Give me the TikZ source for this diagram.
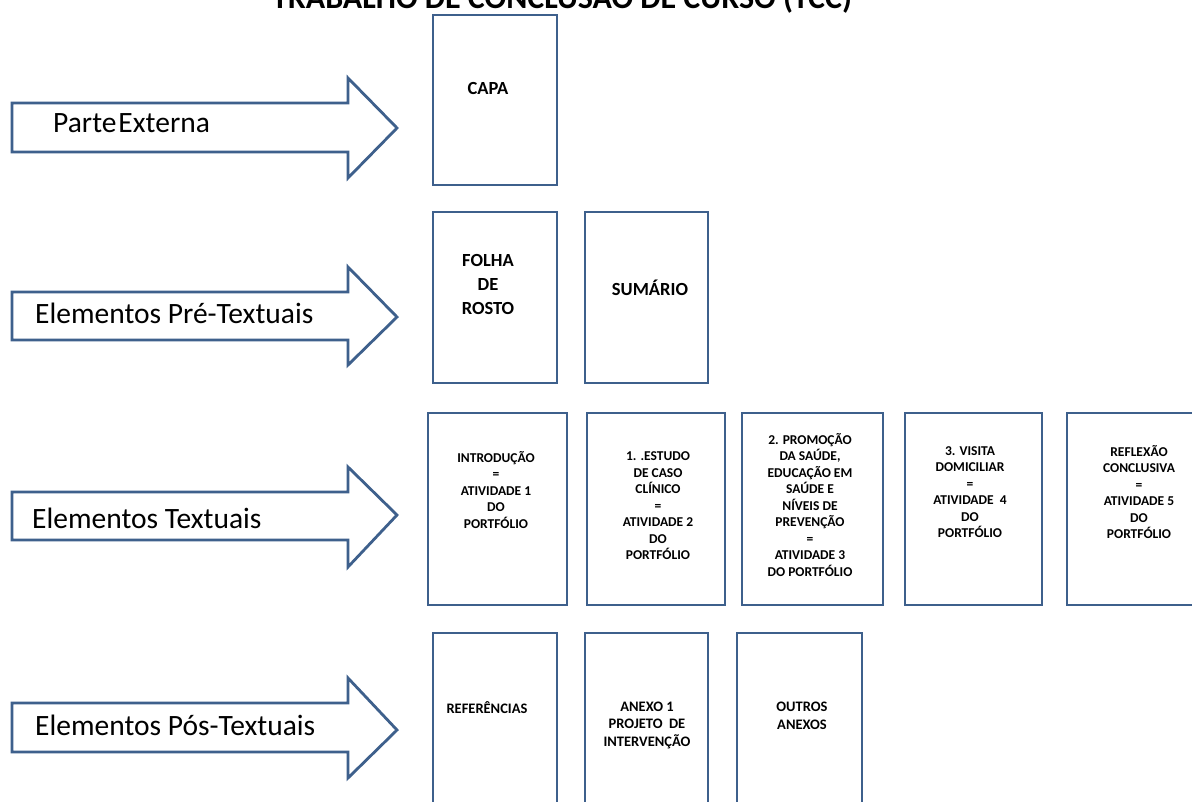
\documentclass[tikz,border=0pt]{standalone}
\usepackage{fontspec}
\setmainfont{Carlito}
\usetikzlibrary{fit}
\definecolor{edgeblue}{RGB}{62,96,140}
\begin{document}
\begin{tikzpicture}[x=1pt,y=-1pt,
  sheet/.style={draw=edgeblue,line width=2.8pt,fill=white,inner sep=0pt},
  bigarrow/.style={draw=edgeblue,line width=2.8pt,fill=white,line join=miter},
  lbl/.style={font=\fontsize{29.5}{35}\selectfont,anchor=base west,inner sep=0pt},
  txt/.style={font=\bfseries\fontsize{13.5}{16.5}\selectfont,align=center,inner sep=0pt},
  txtbig/.style={font=\bfseries\fontsize{18.5}{24}\selectfont,align=center,inner sep=0pt},
  txtmid/.style={font=\bfseries\fontsize{14.5}{17.5}\selectfont,align=center,inner sep=0pt}]
\useasboundingbox (0,0) rectangle (1192,801);
\clip (0,0) rectangle (1192,801);
\fill[white] (0,0) rectangle (1192,801);

% title (cut off at top)
\node[font=\bfseries\fontsize{32}{38}\selectfont,anchor=base,inner sep=0pt] (title) at (562,8) {TRABALHO DE CONCLUSÃO DE CURSO (TCC)};

% arrows
\draw[bigarrow] (12,103) -- (348,103) -- (348,78) -- (397,128) -- (348,178) -- (348,152) -- (12,152) -- cycle;
\draw[bigarrow] (12,292) -- (348,292) -- (348,267) -- (397,317) -- (348,365) -- (348,340) -- (12,340) -- cycle;
\draw[bigarrow] (12,492) -- (348,492) -- (348,467) -- (397,515) -- (348,567) -- (348,540) -- (12,540) -- cycle;
\draw[bigarrow] (12,703) -- (348,703) -- (348,678) -- (397,730) -- (348,778) -- (348,752) -- (12,752) -- cycle;

\node[lbl] (l1) at (53,132) {Parte\kern2pt Externa};
\node[lbl] (l2) at (35,323) {Elementos Pré-Textuais};
\node[lbl] (l3) at (32,528) {Elementos Textuais};
\node[lbl] (l4) at (35,735) {Elementos Pós-Textuais};

% row 1
\node[sheet,fit={(433,15) (557,185)}] (capa) {};
% row 2
\node[sheet,fit={(433,212) (557,383)}] (folha) {};
\node[sheet,fit={(585,212) (708,383)}] (sumario) {};
% row 3
\node[sheet,fit={(428,413) (567,605)}] (intro) {};
\node[sheet,fit={(587,413) (725,605)}] (estudo) {};
\node[sheet,fit={(742,413) (883,605)}] (promo) {};
\node[sheet,fit={(905,413) (1042,605)}] (visita) {};
\node[sheet,fit={(1067,413) (1205,605)}] (reflex) {};
% row 4
\node[sheet,fit={(433,633) (557,815)}] (refs) {};
\node[sheet,fit={(585,633) (708,815)}] (anexo) {};
\node[sheet,fit={(737,633) (862,815)}] (outros) {};

% texts
\node[txtbig] (tcapa) at (488,88) {CAPA};
\node[txtbig] (tfolha) at (488,284) {FOLHA\\DE\\ROSTO};
\node[txtbig] (tsum) at (650,288) {SUMÁRIO};

\node[txt] (tintro) at (496,490) {INTRODUÇÃO\\=\\ATIVIDADE 1\\DO\\PORTFÓLIO};
\node[txt] (testudo) at (658,506) {1. .ESTUDO\\DE CASO\\CLÍNICO\\=\\ATIVIDADE 2\\DO\\PORTFÓLIO};
\node[txt] (tpromo) at (810,505) {2. PROMOÇÃO\\DA SAÚDE,\\EDUCAÇÃO EM\\SAÚDE E\\NÍVEIS DE\\PREVENÇÃO\\=\\ATIVIDADE 3\\DO PORTFÓLIO};
\node[txt] (tvisita) at (970,492) {3. VISITA\\DOMICILIAR\\=\\ATIVIDADE\ \ 4\\DO\\PORTFÓLIO};
\node[txt] (treflex) at (1139,492) {REFLEXÃO\\CONCLUSIVA\\=\\ATIVIDADE 5\\DO\\PORTFÓLIO};

\node[txtmid] (trefs) at (487,708) {REFERÊNCIAS};
\node[txtmid] (tanexo) at (647,725) {ANEXO 1\\PROJETO\ \ DE\\INTERVENÇÃO};
\node[txtmid] (toutros) at (802,716) {OUTROS\\ANEXOS};
\end{tikzpicture}
\end{document}
